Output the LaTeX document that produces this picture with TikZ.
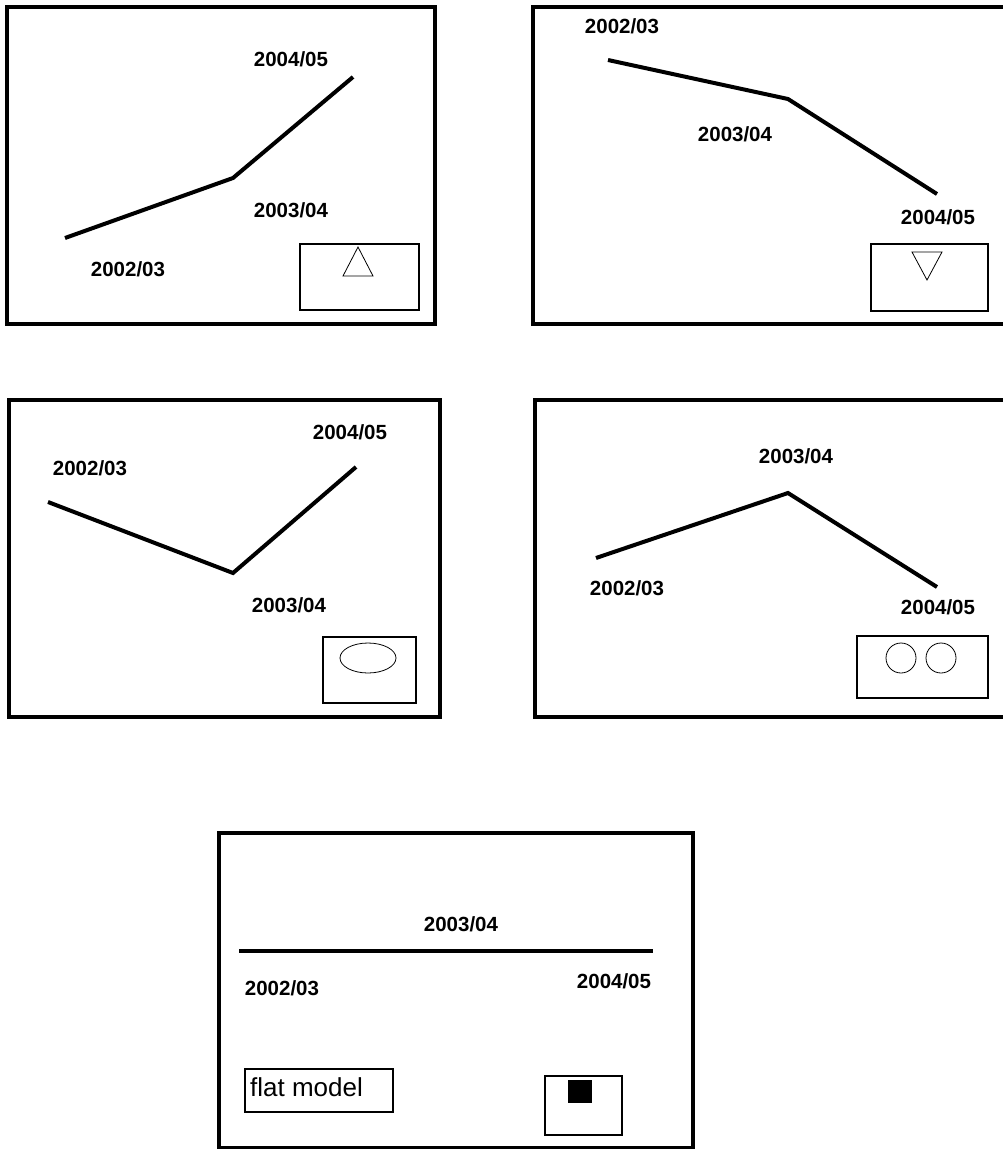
\documentclass[tikz,border=0pt]{standalone}
\usepackage{fontspec}
\setmainfont{Liberation Sans}
\begin{document}
\begin{tikzpicture}[x=1pt,y=-1pt,
  frame/.style={draw, line width=4.5pt},
  trend/.style={draw, line width=4pt},
  lbl/.style={font=\fontsize{20.5}{22}\selectfont\bfseries, inner sep=0pt},
  smallbox/.style={draw, line width=1.5pt},
  glyph/.style={draw, line width=0.8pt}]
\useasboundingbox (0,0) rectangle (1002,1149);
% panel 1
\draw[frame] (7,7) rectangle (435,324);
\coordinate (a1) at (65,238); \coordinate (a2) at (233,178); \coordinate (a3) at (353,77);
\draw[trend] (a1) -- (a2) -- (a3);
\node[lbl] (a1l) at (128,269) {2002/03};
\node[lbl] (a2l) at (291,210) {2003/04};
\node[lbl] (a3l) at (291,59) {2004/05};
\draw[smallbox] (300,244) rectangle (419,310);
\draw[glyph] (358,247) -- (343,276) -- (373,276) -- cycle;
% panel 2
\draw[frame] (533,7) rectangle (1010,324);
\coordinate (b1) at (608,60); \coordinate (b2) at (788,99); \coordinate (b3) at (937,194);
\draw[trend] (b1) -- (b2) -- (b3);
\node[lbl] (b1l) at (622,26) {2002/03};
\node[lbl] (b2l) at (735,134) {2003/04};
\node[lbl] (b3l) at (938,217) {2004/05};
\draw[smallbox] (871,244) rectangle (988,311);
\draw[glyph] (912,252) -- (942,252) -- (927,280) -- cycle;
% panel 3
\draw[frame] (9,400) rectangle (440,717);
\coordinate (c1) at (48,502); \coordinate (c2) at (233,573); \coordinate (c3) at (356,467);
\draw[trend] (c1) -- (c2) -- (c3);
\node[lbl] (c1l) at (90,468) {2002/03};
\node[lbl] (c2l) at (289,605) {2003/04};
\node[lbl] (c3l) at (350,432) {2004/05};
\draw[smallbox] (323,637) rectangle (416,703);
\draw[glyph] (368,658) ellipse [x radius=28, y radius=15];
% panel 4
\draw[frame] (535,400) rectangle (1010,717);
\coordinate (d1) at (596,558); \coordinate (d2) at (788,493); \coordinate (d3) at (937,587);
\draw[trend] (d1) -- (d2) -- (d3);
\node[lbl] (d1l) at (627,588) {2002/03};
\node[lbl] (d2l) at (796,456) {2003/04};
\node[lbl] (d3l) at (938,607) {2004/05};
\draw[smallbox] (857,636) rectangle (988,698);
\draw[glyph] (901,658) circle [radius=15];
\draw[glyph] (941,658) circle [radius=15];
% panel 5
\draw[frame] (219,833) rectangle (693,1148);
\coordinate (e1) at (239,951); \coordinate (e3) at (653,951);
\draw[trend] (e1) -- (e3);
\node[lbl] (e1l) at (282,988) {2002/03};
\node[lbl] (e2l) at (461,924) {2003/04};
\node[lbl] (e3l) at (614,981) {2004/05};
\draw[smallbox] (245,1069) rectangle (393,1112);
\node[anchor=west, inner sep=0pt, font=\fontsize{26}{28}\selectfont] (flat) at (250,1087) {flat model};
\draw[smallbox] (545,1076) rectangle (622,1135);
\fill (568,1080) rectangle (592,1103);
\end{tikzpicture}
\end{document}
